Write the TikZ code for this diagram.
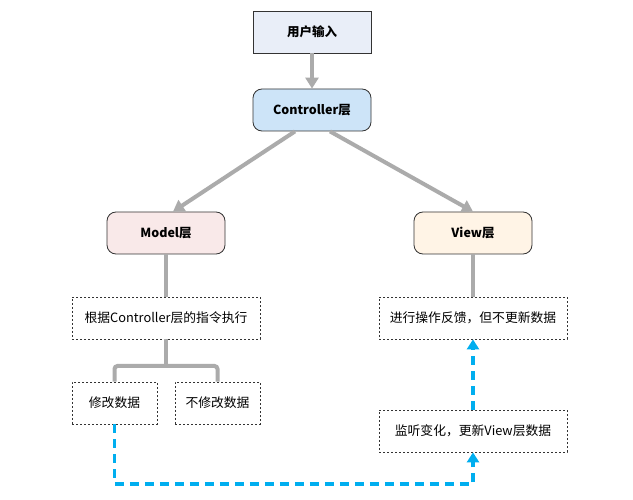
\documentclass[tikz,border=0pt]{standalone}
\usepackage{fontspec}
\setmainfont{Noto Sans CJK SC}
\usetikzlibrary{arrows.meta}
\definecolor{edgegray}{HTML}{ABABAB}
\definecolor{flowblue}{HTML}{00AEEF}
\definecolor{inputfill}{HTML}{E9EEF8}
\definecolor{ctrlfill}{HTML}{CDE4F8}
\definecolor{modelfill}{HTML}{F9E9E9}
\definecolor{viewfill}{HTML}{FFF4E6}
\definecolor{boxline}{HTML}{333333}
\tikzset{
  mainbox/.style={draw=boxline, line width=0.8pt, minimum width=118pt, minimum height=42pt, inner sep=0pt, font=\fontsize{12.5}{14}\selectfont\bfseries},
  roundbox/.style={mainbox, rounded corners=9pt},
  dotbox/.style={draw=boxline, line width=0.8pt, dash pattern=on 2pt off 2pt, minimum height=42pt, inner sep=0pt, font=\fontsize{12.8}{14}\selectfont},
  grayarrow/.style={draw=edgegray, line width=4pt, -{Triangle[width=13pt,length=11pt]}},
  grayline/.style={draw=edgegray, line width=4pt},
  bluearrow/.style={draw=flowblue, line width=3.5pt, dash pattern=on 9pt off 6pt, -{Triangle[width=12pt,length=10pt]}},
}
\begin{document}
\begin{tikzpicture}[x=1pt,y=-1pt]
\useasboundingbox[fill=white] (0,0) rectangle (633,500);
\node[mainbox, fill=inputfill] (input) at (312,32) {用户输入};
\node[roundbox, fill=ctrlfill] (ctrl) at (312,110) {Controller层};
\node[roundbox, fill=modelfill] (model) at (166,233) {Model层};
\node[roundbox, fill=viewfill] (view) at (473,233) {View层};
\node[dotbox, minimum width=188pt] (exec) at (166,318) {根据Controller层的指令执行};
\node[dotbox, minimum width=85pt] (modify) at (114.5,403) {修改数据};
\node[dotbox, minimum width=85pt] (nomodify) at (217.5,403) {不修改数据};
\node[dotbox, minimum width=188pt] (feedback) at (473,318) {进行操作反馈，但不更新数据};
\node[dotbox, minimum width=188pt] (listen) at (473,431) {监听变化，更新View层数据};
\coordinate (split) at (166,366);
\coordinate (corner) at (114.5,484);

\draw[grayarrow] (input.south) -- (ctrl.north);
\draw[grayarrow] ([xshift=-17pt]ctrl.south) -- ([xshift=7pt]model.north);
\draw[grayarrow] ([xshift=18pt]ctrl.south) -- (view.north);
\draw[grayline] (model.south) -- (exec.north);
\draw[grayline] (view.south) -- (feedback.north);
\draw[grayline] (exec.south) -- (split);
\draw[grayline, rounded corners=3pt] (modify.north) |- (split) -| (nomodify.north);
\draw[bluearrow] (modify.south) -- (corner) -| (listen.south);
\draw[bluearrow] (listen.north) -- (feedback.south);
\end{tikzpicture}
\end{document}
